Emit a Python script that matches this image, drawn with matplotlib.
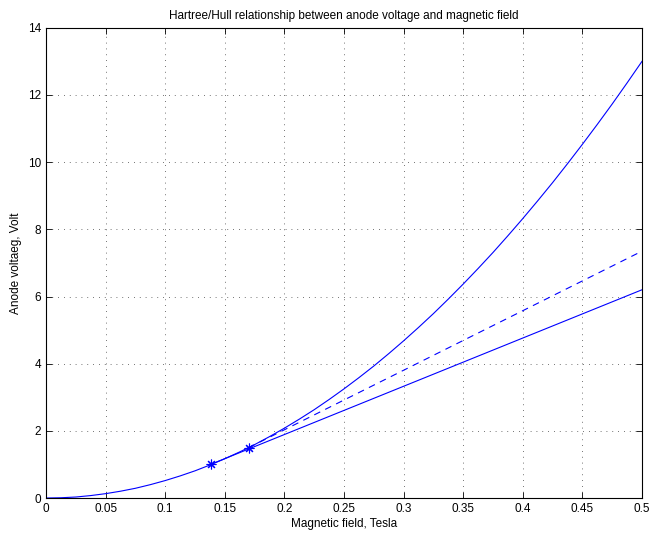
import numpy as np
import matplotlib.pyplot as plt

# Hull cutoff parabola, anode voltage vs magnetic field
hull_b = [0, 0.0125, 0.025, 0.0375, 0.05, 0.0625, 0.075, 0.0875, 0.1, 0.1125,
          0.125, 0.1375, 0.15, 0.1625, 0.175, 0.1875, 0.2, 0.2125, 0.225, 0.2375,
          0.25, 0.2625, 0.275, 0.2875, 0.3, 0.3125, 0.325, 0.3375, 0.35, 0.3625,
          0.375, 0.3875, 0.4, 0.4125, 0.425, 0.4375, 0.45, 0.4625, 0.475, 0.4875,
          0.5]
hull_v = [0, 0.008, 0.03, 0.073, 0.13, 0.203, 0.29, 0.398, 0.52, 0.658,
          0.81, 0.983, 1.17, 1.373, 1.59, 1.828, 2.08, 2.348, 2.63, 2.933,
          3.25, 3.583, 3.93, 4.298, 4.68, 5.078, 5.49, 5.923, 6.37, 6.833,
          7.31, 7.808, 8.32, 8.848, 9.39, 9.953, 10.53, 11.123, 11.73, 12.358,
          13.0]

# Hartree lines (start at their tangent points)
hartree1_b = [0.138, 0.5]
hartree1_v = [1.0, 6.2]
hartree2_b = [0.17, 0.5]
hartree2_v = [1.5, 7.35]

pts_b = [0.138, 0.17]
pts_v = [1.0, 1.5]

plt.rcParams['font.family'] = ['Liberation Sans', 'DejaVu Sans']
plt.rcParams['font.size'] = 8.5

fig = plt.figure(figsize=(6.52, 5.38), dpi=100)
ax = fig.add_axes([0.0706, 0.0743, 0.914, 0.874])

blue = (0, 0, 1)
ax.plot(hull_b, hull_v, color=blue, lw=0.8)
ax.plot(hartree1_b, hartree1_v, color=blue, lw=0.8)
ax.plot(hartree2_b, hartree2_v, color=blue, lw=0.8, ls=(0, (6, 5)))
ax.plot(pts_b, pts_v, ls='none', marker=(8, 2, 0), color=blue, ms=7, mew=0.8)

ax.set_xlim(0, 0.5)
ax.set_ylim(0, 14)
ax.set_xticks(np.arange(0, 0.501, 0.05))
ax.set_xticklabels(['0', '0.05', '0.1', '0.15', '0.2', '0.25', '0.3',
                    '0.35', '0.4', '0.45', '0.5'])
ax.set_yticks(range(0, 15, 2))
ax.tick_params(direction='in', top=True, right=True, length=4, width=0.6)
ax.grid(True, ls=(0, (1, 6)), color='#444444', lw=0.6)
for s in ax.spines.values():
    s.set_linewidth(0.8)

ax.set_title('Hartree/Hull relationship between anode voltage and magnetic field', fontsize=8.5)
ax.set_xlabel('Magnetic field, Tesla', labelpad=2)
ax.set_ylabel('Anode voltaeg, Volt', labelpad=4)

fig.savefig('out.png', dpi=100)
